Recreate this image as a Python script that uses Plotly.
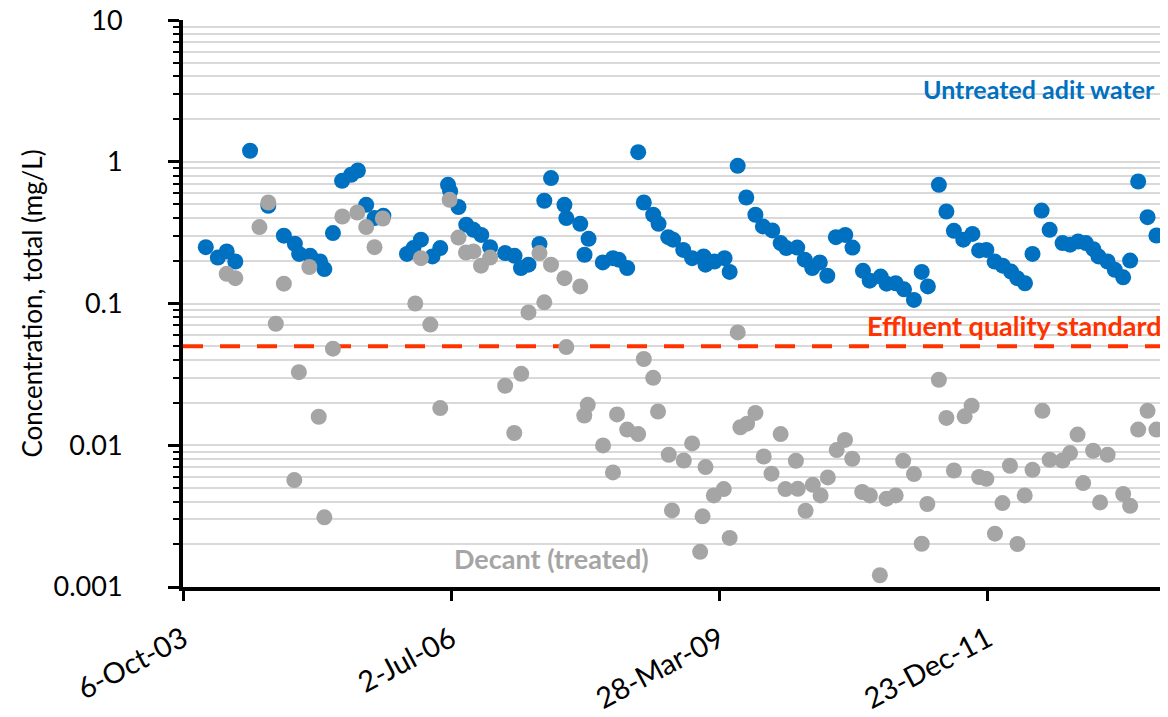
import plotly.graph_objects as go

# Untreated adit water (blue)
untreated_dates = [
    "2003-12-30", "2004-02-13", "2004-03-17", "2004-04-18", "2004-06-12", "2004-08-19",
    "2004-10-16", "2004-11-26", "2004-12-12", "2005-01-22", "2005-02-28", "2005-03-16",
    "2005-04-17", "2005-05-21", "2005-06-24", "2005-07-19", "2005-08-19", "2005-09-19",
    "2005-10-22", "2006-01-18", "2006-02-11", "2006-03-11", "2006-04-23", "2006-05-22",
    "2006-06-20", "2006-06-28", "2006-07-29", "2006-08-27", "2006-09-23", "2006-10-22",
    "2006-11-24", "2007-01-19", "2007-02-23", "2007-03-19", "2007-04-16", "2007-05-27",
    "2007-06-14", "2007-07-09", "2007-08-28", "2007-09-04", "2007-10-26", "2007-11-11",
    "2007-11-26", "2008-01-18", "2008-02-25", "2008-03-17", "2008-04-18", "2008-05-29",
    "2008-06-19", "2008-07-24", "2008-08-13", "2008-09-18", "2008-10-06", "2008-11-13",
    "2008-12-16", "2009-01-28", "2009-02-04", "2009-03-09", "2009-04-16", "2009-05-05",
    "2009-06-04", "2009-07-06", "2009-08-09", "2009-09-06", "2009-10-11", "2009-11-11",
    "2009-12-02", "2010-01-12", "2010-02-09", "2010-03-09", "2010-04-06", "2010-05-04",
    "2010-06-05", "2010-07-10", "2010-08-06", "2010-09-14", "2010-10-09", "2010-11-19",
    "2010-12-11", "2011-01-14", "2011-02-14", "2011-03-23", "2011-04-21", "2011-05-14",
    "2011-06-24", "2011-07-22", "2011-08-19", "2011-09-23", "2011-10-27", "2011-11-21",
    "2011-12-18", "2012-01-18", "2012-02-17", "2012-03-19", "2012-04-11", "2012-05-10",
    "2012-06-07", "2012-07-11", "2012-08-10", "2012-09-27", "2012-10-25", "2012-11-24",
    "2012-12-23", "2013-01-20", "2013-02-08", "2013-03-14", "2013-04-10", "2013-05-11",
    "2013-06-06", "2013-07-06", "2013-08-10", "2013-09-12",
]
untreated_values = [
    0.25, 0.211, 0.233, 0.198, 1.196, 0.489,
    0.301, 0.264, 0.224, 0.217, 0.198, 0.175,
    0.314, 0.734, 0.81, 0.868, 0.497, 0.401,
    0.416, 0.224, 0.246, 0.282, 0.215, 0.246,
    0.688, 0.62, 0.48, 0.36, 0.331, 0.305,
    0.25, 0.227, 0.217, 0.178, 0.188, 0.263,
    0.531, 0.767, 0.497, 0.401, 0.365, 0.221,
    0.286, 0.195, 0.209, 0.204, 0.178, 1.17,
    0.516, 0.423, 0.365, 0.294, 0.282, 0.239,
    0.209, 0.215, 0.188, 0.198, 0.209, 0.167,
    0.937, 0.56, 0.423, 0.35, 0.328, 0.267,
    0.246, 0.248, 0.204, 0.178, 0.195, 0.157,
    0.294, 0.305, 0.248, 0.17, 0.145, 0.155,
    0.138, 0.139, 0.126, 0.106, 0.167, 0.132,
    0.688, 0.446, 0.326, 0.282, 0.31, 0.237,
    0.239, 0.198, 0.185, 0.168, 0.151, 0.139,
    0.224, 0.453, 0.331, 0.267, 0.26, 0.274,
    0.267, 0.242, 0.215, 0.198, 0.173, 0.153,
    0.201, 0.726, 0.407, 0.302,
]

# Decant (treated) (grey)
decant_dates = [
    "2004-03-17", "2004-04-18", "2004-07-17", "2004-08-19", "2004-09-16", "2004-10-16",
    "2004-11-24", "2004-12-11", "2005-01-19", "2005-02-23", "2005-03-16", "2005-04-17",
    "2005-05-22", "2005-07-17", "2005-08-19", "2005-09-19", "2005-10-20", "2006-02-18",
    "2006-03-11", "2006-04-15", "2006-05-22", "2006-06-26", "2006-07-29", "2006-08-26",
    "2006-09-23", "2006-10-21", "2006-11-24", "2007-01-19", "2007-02-22", "2007-03-20",
    "2007-04-16", "2007-05-27", "2007-06-14", "2007-07-09", "2007-08-28", "2007-09-04",
    "2007-10-26", "2007-11-10", "2007-11-23", "2008-01-19", "2008-02-25", "2008-03-11",
    "2008-04-18", "2008-05-29", "2008-06-19", "2008-07-24", "2008-08-11", "2008-09-20",
    "2008-10-02", "2008-11-15", "2008-12-16", "2009-01-15", "2009-01-24", "2009-02-04",
    "2009-03-07", "2009-04-13", "2009-05-05", "2009-06-04", "2009-06-14", "2009-07-09",
    "2009-08-09", "2009-09-09", "2009-10-08", "2009-11-11", "2009-11-29", "2010-01-07",
    "2010-01-14", "2010-02-12", "2010-03-11", "2010-04-09", "2010-05-06", "2010-06-08",
    "2010-07-09", "2010-08-05", "2010-09-11", "2010-10-10", "2010-11-16", "2010-12-11",
    "2011-01-14", "2011-02-11", "2011-03-23", "2011-04-21", "2011-05-12", "2011-06-24",
    "2011-07-22", "2011-08-19", "2011-09-28", "2011-10-24", "2011-11-21", "2011-12-18",
    "2012-01-19", "2012-02-16", "2012-03-15", "2012-04-12", "2012-05-09", "2012-06-07",
    "2012-07-14", "2012-08-10", "2012-09-27", "2012-10-25", "2012-11-22", "2012-12-13",
    "2013-01-19", "2013-02-14", "2013-03-14", "2013-05-11", "2013-06-06", "2013-07-06",
    "2013-08-10", "2013-09-12",
]
decant_values = [
    0.162, 0.151, 0.346, 0.516, 0.072, 0.138,
    0.00568, 0.0328, 0.181, 0.0159, 0.0031, 0.048,
    0.411, 0.439, 0.346, 0.25, 0.398, 0.1,
    0.209, 0.071, 0.0183, 0.539, 0.292, 0.229,
    0.233, 0.185, 0.211, 0.0263, 0.0122, 0.0319,
    0.0865, 0.227, 0.102, 0.188, 0.151, 0.0493,
    0.132, 0.0162, 0.0193, 0.00997, 0.00643, 0.0165,
    0.0129, 0.012, 0.0406, 0.0299, 0.0173, 0.00857,
    0.00347, 0.00781, 0.0103, 0.00177, 0.00315, 0.00702,
    0.00443, 0.00491, 0.00222, 0.0625, 0.0134, 0.0142,
    0.0169, 0.00833, 0.0063, 0.012, 0.00491, 0.00778,
    0.00493, 0.00345, 0.00526, 0.00443, 0.00593, 0.00925,
    0.0109, 0.00803, 0.00468, 0.00443, 0.00121, 0.0042,
    0.00443, 0.00778, 0.00626, 0.00202, 0.00385, 0.029,
    0.0156, 0.00664, 0.016, 0.019, 0.00597, 0.0058,
    0.00238, 0.00391, 0.00717, 0.00201, 0.00443, 0.00671,
    0.0175, 0.0079, 0.00781, 0.00881, 0.0119, 0.00541,
    0.00915, 0.00395, 0.00857, 0.00453, 0.00374, 0.0129,
    0.0175, 0.0129,
]

standard_value = 0.05
x_start, x_end = "2003-10-06", "2013-10-14"

tick_dates = ["2003-10-06", "2006-07-02", "2009-03-28", "2011-12-23"]
tick_labels = ["6-Oct-03", "2-Jul-06", "28-Mar-09", "23-Dec-11"]

y_tick_values = [0.001, 0.01, 0.1, 1, 10]
y_tick_labels = ["0.001", "0.01", "0.1", "1", "10"]

BLUE = "#0070C0"
GREY = "#A5A5A5"
RED = "#FF3300"
FONT = "Lato"

fig = go.Figure()

fig.add_trace(go.Scatter(
    x=[x_start, x_end], y=[standard_value, standard_value], mode="lines",
    line=dict(color=RED, width=4, dash="20px,17px"), hoverinfo="skip", showlegend=False,
))
fig.add_trace(go.Scatter(
    x=untreated_dates, y=untreated_values, mode="markers", name="Untreated adit water",
    marker=dict(color=BLUE, size=16), showlegend=False,
))
fig.add_trace(go.Scatter(
    x=decant_dates, y=decant_values, mode="markers", name="Decant (treated)",
    marker=dict(color=GREY, size=16), showlegend=False,
))

fig.add_annotation(x=0.998, xref="paper", xanchor="right", y=-1.157, yref="y",
                   yanchor="middle", text="<b>Effluent quality standard</b>", showarrow=False,
                   font=dict(family=FONT, size=27, color=RED))
fig.add_annotation(x=0.992, xref="paper", xanchor="right", y=0.878, yref="paper",
                   yanchor="middle", text="<b>Untreated adit water</b>", showarrow=False,
                   font=dict(family=FONT, size=25, color=BLUE))
fig.add_annotation(x=0.375, xref="paper", xanchor="center", y=0.051, yref="paper",
                   yanchor="middle", text="<b>Decant (treated)</b>", showarrow=False,
                   font=dict(family=FONT, size=27, color=GREY))

fig.update_layout(
    width=1160, height=709,
    margin=dict(l=175, r=3, t=12, b=130, autoexpand=False),
    plot_bgcolor="white", paper_bgcolor="white",
    font=dict(family=FONT, color="black"),
    xaxis=dict(
        type="date", range=[x_start, x_end], automargin=False,
        tickvals=tick_dates, ticktext=tick_labels, tickangle=-28,
        tickfont=dict(size=29, family=FONT), ticklabelstandoff=10,
        showgrid=False, zeroline=False,
        showline=True, linecolor="black", linewidth=4,
        ticks="outside", ticklen=10, tickwidth=3, tickcolor="black",
    ),
    yaxis=dict(
        type="log", range=[-3, 1.0004], dtick=1, automargin=False,
        tickvals=y_tick_values, ticktext=y_tick_labels,
        tickfont=dict(size=27, family=FONT), ticklabelstandoff=40,
        ticklabeloverflow="allow",
        title=dict(text="Concentration, total (mg/L)", font=dict(size=26, family=FONT), standoff=4),
        showgrid=True, gridcolor="#D9D9D9", gridwidth=1.5,
        showline=True, linecolor="black", linewidth=4,
        ticks="outside", ticklen=11, tickwidth=3, tickcolor="black",
        minor=dict(dtick="D1", showgrid=True, gridcolor="#D9D9D9", gridwidth=1.5,
                   ticks="outside", ticklen=6, tickwidth=2, tickcolor="black"),
        zeroline=False,
    ),
)

fig.write_html("out.html")
